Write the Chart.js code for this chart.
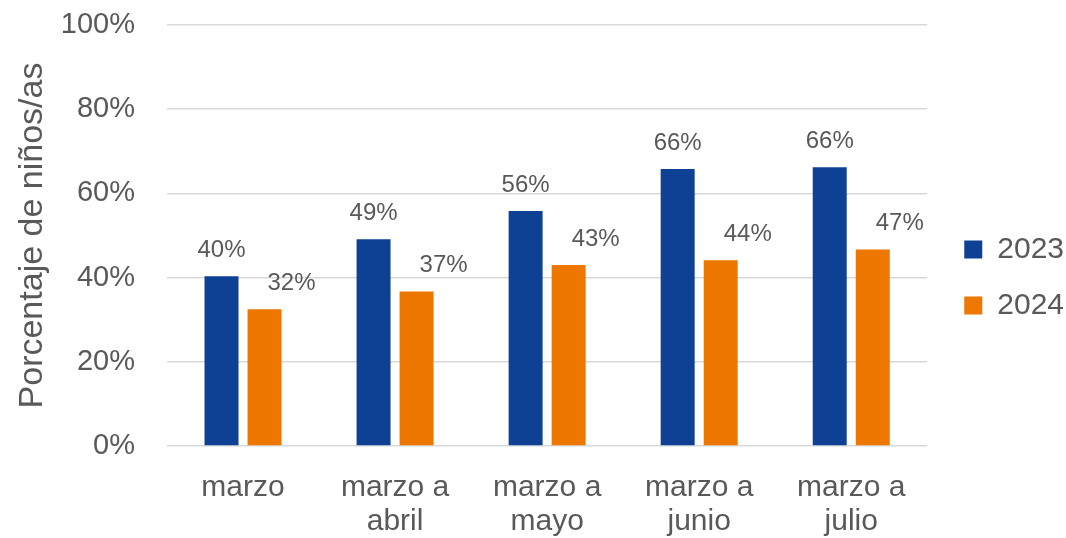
<!DOCTYPE html>
<html>
<head>
<meta charset="utf-8">
<script src="https://cdn.jsdelivr.net/npm/chart.js@4.4.1/dist/chart.umd.min.js"></script>
<style>
  html, body { margin: 0; padding: 0; background: #fff; }
  #wrap { width: 1066px; height: 538px; }
</style>
</head>
<body>
<div id="wrap"><canvas id="chart"></canvas></div>
<script>
const categories = [['marzo'], ['marzo a', 'abril'], ['marzo a', 'mayo'], ['marzo a', 'junio'], ['marzo a', 'julio']];
const seriesNames = ['2023', '2024'];
const values2023 = [40.3, 49.1, 55.8, 65.8, 66.2];
const values2024 = [32.5, 36.7, 43.0, 44.1, 46.7];
const labels2023 = ['40%', '49%', '56%', '66%', '66%'];
const labels2024 = ['32%', '37%', '43%', '44%', '47%'];
const yTicks = [0, 20, 40, 60, 80, 100];

const gray = '#595959';
const font = 'Liberation Sans';

// value labels above the bars
const barLabels = {
  id: 'barLabels',
  afterDatasetsDraw(chart) {
    const ctx = chart.ctx;
    const texts = [labels2023, labels2024];
    const shift = [0, 27];
    ctx.save();
    ctx.font = '24px "' + font + '"';
    ctx.fillStyle = gray;
    ctx.textAlign = 'center';
    ctx.textBaseline = 'middle';
    chart.data.datasets.forEach((ds, i) => {
      chart.getDatasetMeta(i).data.forEach((bar, j) => {
        ctx.fillText(texts[i][j], bar.x + shift[i], bar.y - 26);
      });
    });
    ctx.restore();
  }
};

// nudge the legend a bit right/up
const legendNudge = {
  id: 'legendNudge',
  afterLayout(chart) {
    chart.legend.left += 11;
    chart.legend.right += 11;
    chart.legend.top -= 4;
    chart.legend.bottom -= 4;
  }
};

new Chart(document.getElementById('chart'), {
  type: 'bar',
  data: {
    labels: categories,
    datasets: [
      { label: seriesNames[0], data: values2023, backgroundColor: '#0E4194' },
      { label: seriesNames[1], data: values2024, backgroundColor: '#EE7700' }
    ]
  },
  options: {
    responsive: true,
    maintainAspectRatio: false,
    animation: false,
    categoryPercentage: 0.566,
    barPercentage: 0.79,
    layout: { padding: { top: 25, right: 3, bottom: 0, left: 0 } },
    plugins: {
      tooltip: { enabled: false },
      legend: {
        position: 'right',
        labels: {
          boxWidth: 18,
          boxHeight: 18,
          padding: 26,
          color: gray,
          font: { family: font, size: 30 }
        }
      }
    },
    scales: {
      x: {
        afterFit: s => { s.height = 92; },
        grid: { display: false },
        border: { display: false },
        ticks: {
          color: gray,
          padding: 17,
          maxRotation: 0,
          autoSkip: false,
          font: { family: font, size: 30, lineHeight: 1.13 }
        }
      },
      y: {
        min: 0,
        max: 100,
        afterBuildTicks: s => { s.ticks = yTicks.map(v => ({ value: v })); },
        afterFit: s => { s.width = 167; },
        grid: { color: '#D9D9D9', lineWidth: 1.5, drawTicks: true, tickLength: 32, tickColor: 'rgba(0,0,0,0)' },
        border: { display: false },
        title: {
          display: true,
          text: 'Porcentaje de niños/as',
          color: gray,
          padding: { top: 12, bottom: 0 },
          font: { family: font, size: 34 }
        },
        ticks: {
          color: gray,
          padding: 0,
          callback: v => v + '%',
          font: { family: font, size: 29 }
        }
      }
    }
  },
  plugins: [barLabels, legendNudge]
});
</script>
</body>
</html>
